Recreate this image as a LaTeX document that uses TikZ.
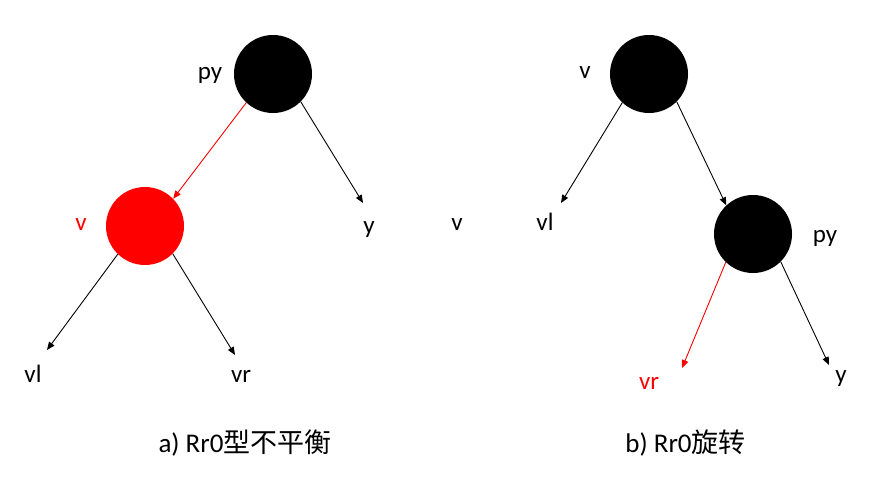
\documentclass[tikz,border=0pt]{standalone}
\usepackage{fontspec}
\setmainfont{Carlito}
\newfontfamily\cjk{Noto Sans CJK SC}
\usetikzlibrary{arrows.meta}
\definecolor{myred}{HTML}{FF0000}
\tikzset{
  blacknode/.style={circle,fill=black,draw=none,minimum size=78pt,inner sep=0pt},
  rednode/.style={circle,fill=myred,draw=none,minimum size=78pt,inner sep=0pt},
  lbl/.style={anchor=base,inner sep=0pt,font=\fontsize{25}{30}\selectfont},
  captext/.style={anchor=base,inner sep=0pt,font=\fontsize{27}{32}\selectfont},
  conn/.style={line width=0.9pt,-{Triangle[length=8pt,width=6.5pt]}},
  redconn/.style={conn,draw=myred,-{Triangle[length=8pt,width=6.5pt,fill=myred]}}
}
\begin{document}
\begin{tikzpicture}[x=1pt,y=-1pt]
\useasboundingbox (0,0) rectangle (882,487);
% left tree
\node[blacknode] (pyA) at (273,74) {};
\node[rednode] (vA) at (145,226) {};
\node[lbl] (lpyA) at (210,79) {py};
\node[lbl,text=myred] (lvA) at (81,230) {v};
\node[lbl] (lyA) at (369,233) {y};
\node[lbl] (lvlA) at (33,382) {vl};
\node[lbl] (lvrA) at (241,382) {vr};
\coordinate (eyA) at (363,203);
\coordinate (evlA) at (47,350);
\coordinate (evrA) at (235,355);
\draw[redconn] (pyA.227) -- (vA.44);
\draw[conn] (pyA.315) -- (eyA);
\draw[conn] (vA.226) -- (evlA);
\draw[conn] (vA.315) -- (evrA);
% right tree
\node[blacknode] (vB) at (649,74) {};
\node[blacknode] (pyB) at (753,234) {};
\node[lbl] (lvB) at (585,78) {v};
\node[lbl] (lvstray) at (457,230) {v};
\node[lbl] (lvlB) at (545,230) {vl};
\node[lbl] (lpyB) at (825,242) {py};
\node[lbl,text=myred] (lvrB) at (649,389) {vr};
\node[lbl] (lyB) at (841,382) {y};
\coordinate (evlB) at (561,203);
\coordinate (evrB) at (682,368);
\coordinate (eyB) at (829,365);
\draw[conn] (vB.227) -- (evlB);
\draw[conn] (vB.315) -- (pyB.133);
\draw[redconn] (pyB.226) -- (evrB);
\draw[conn] (pyB.315) -- (eyB);
% captions
\node[captext] (capA) at (245,452) {a) Rr0{\cjk 型不平衡}};
\node[captext] (capB) at (685.5,452) {b) Rr0{\cjk 旋转}};
\end{tikzpicture}
\end{document}
